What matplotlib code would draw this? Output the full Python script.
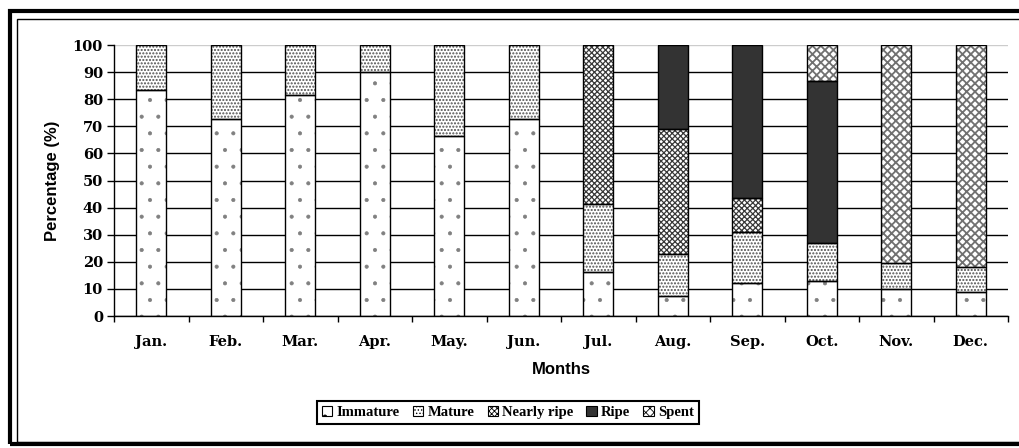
import matplotlib.pyplot as plt
import numpy as np
from matplotlib.patches import Rectangle, Patch

months = ['Jan.', 'Feb.', 'Mar.', 'Apr.', 'May.', 'Jun.',
          'Jul.', 'Aug.', 'Sep.', 'Oct.', 'Nov.', 'Dec.']
immature = [83.4, 72.6, 81.4, 89.9, 66.4, 72.6, 16.1, 7.4, 12.0, 13.0, 9.8, 8.7]
mature = [16.6, 27.4, 18.6, 10.1, 33.6, 27.4, 25.2, 15.5, 18.9, 13.8, 9.9, 9.5]
nearly_ripe = [0, 0, 0, 0, 0, 0, 58.7, 46.2, 12.8, 0, 0, 0]
ripe = [0, 0, 0, 0, 0, 0, 0, 30.9, 56.3, 59.9, 0, 0]
spent = [0, 0, 0, 0, 0, 0, 0, 0, 0, 13.3, 80.3, 81.8]
stages = ['Immature', 'Mature', 'Nearly ripe', 'Ripe', 'Spent']
yticks = list(range(0, 101, 10))

# fill colour, hatch, hatch colour, hatch width for each stage
styles = [('white', '.', '#808080', 0.5),
          ('white', '.....', '#505050', 1.0),
          ('white', 'xxxxxx', '#383838', 0.9),
          ('#333333', '', '#333333', 1.0),
          ('white', 'xxxx', '#707070', 1.3)]

W, H = 1019, 448
fig = plt.figure(figsize=(W / 100, H / 100), dpi=100)
ax = fig.add_axes([114 / W, 132 / H, 894 / W, 271 / H])

x = np.arange(len(months))
series = [immature, mature, nearly_ripe, ripe, spent]
bottom = np.zeros(len(months))
for vals, (fc, hatch, hc, hw) in zip(series, styles):
    vals = np.array(vals)
    plt.rcParams['hatch.linewidth'] = hw
    ax.bar(x, vals, 0.4, bottom=bottom, color=fc, hatch=hatch,
           edgecolor=hc, linewidth=0, zorder=2)
    mask = vals > 0
    ax.bar(x[mask], vals[mask], 0.4, bottom=bottom[mask], fill=False,
           edgecolor='black', linewidth=1.0, zorder=3)
    bottom += vals

ax.set_xlim(-0.5, len(months) - 0.5)
ax.set_ylim(0, 100)
ax.set_yticks(yticks)
ax.set_yticklabels([str(t) for t in yticks], family='DejaVu Serif',
                   fontweight='bold', fontsize=10.5)
ax.set_xticks(x)
ax.set_xticklabels(months, family='DejaVu Serif', fontweight='bold',
                   fontsize=10.5)
ax.set_xticks(np.arange(-0.5, len(months)), minor=True)
ax.tick_params(axis='x', which='major', length=0, pad=14)
ax.tick_params(axis='x', which='minor', length=4, width=1, direction='out')
ax.tick_params(axis='y', length=5, width=1, direction='out', pad=3)
ax.yaxis.grid(True, color='black', linewidth=1)
ax.set_axisbelow(True)
ax.get_ygridlines()[-1].set_color('#cccccc')
for s in ['top', 'right']:
    ax.spines[s].set_visible(False)
for s in ['left', 'bottom']:
    ax.spines[s].set_linewidth(1)

ax.set_ylabel('Percentage (%)', family='Liberation Sans', fontweight='bold',
              fontsize=12, labelpad=9)
ax.set_xlabel('Months', family='Liberation Sans', fontweight='bold',
              fontsize=12, labelpad=9)

plt.rcParams['hatch.linewidth'] = 0.6
handles = [Patch(facecolor=fc, hatch=hatch, edgecolor='black', linewidth=0.8)
           for fc, hatch, hc, hw in styles]
leg = fig.legend(handles, stages, loc='center', ncol=5,
                 bbox_to_anchor=(508 / W, 1 - 412.5 / H),
                 prop={'family': 'Liberation Serif', 'weight': 'bold', 'size': 10.5},
                 handlelength=0.7, handleheight=0.7, handletextpad=0.3,
                 columnspacing=0.9, fancybox=False, framealpha=1,
                 edgecolor='black', borderpad=0.35)
leg.get_frame().set_linewidth(1.5)

# outer double frame, running off the right edge as in the source
fig.patches.append(Rectangle((9.5 / W, 1 - 443.5 / H), 1100 / W, 432.5 / H,
                             transform=fig.transFigure, fill=False,
                             edgecolor='black', linewidth=3))
fig.patches.append(Rectangle((16.5 / W, 1 - 441.5 / H), 1100 / W, 422.5 / H,
                             transform=fig.transFigure, fill=False,
                             edgecolor='black', linewidth=1))

fig.savefig('out.png', dpi=100)
